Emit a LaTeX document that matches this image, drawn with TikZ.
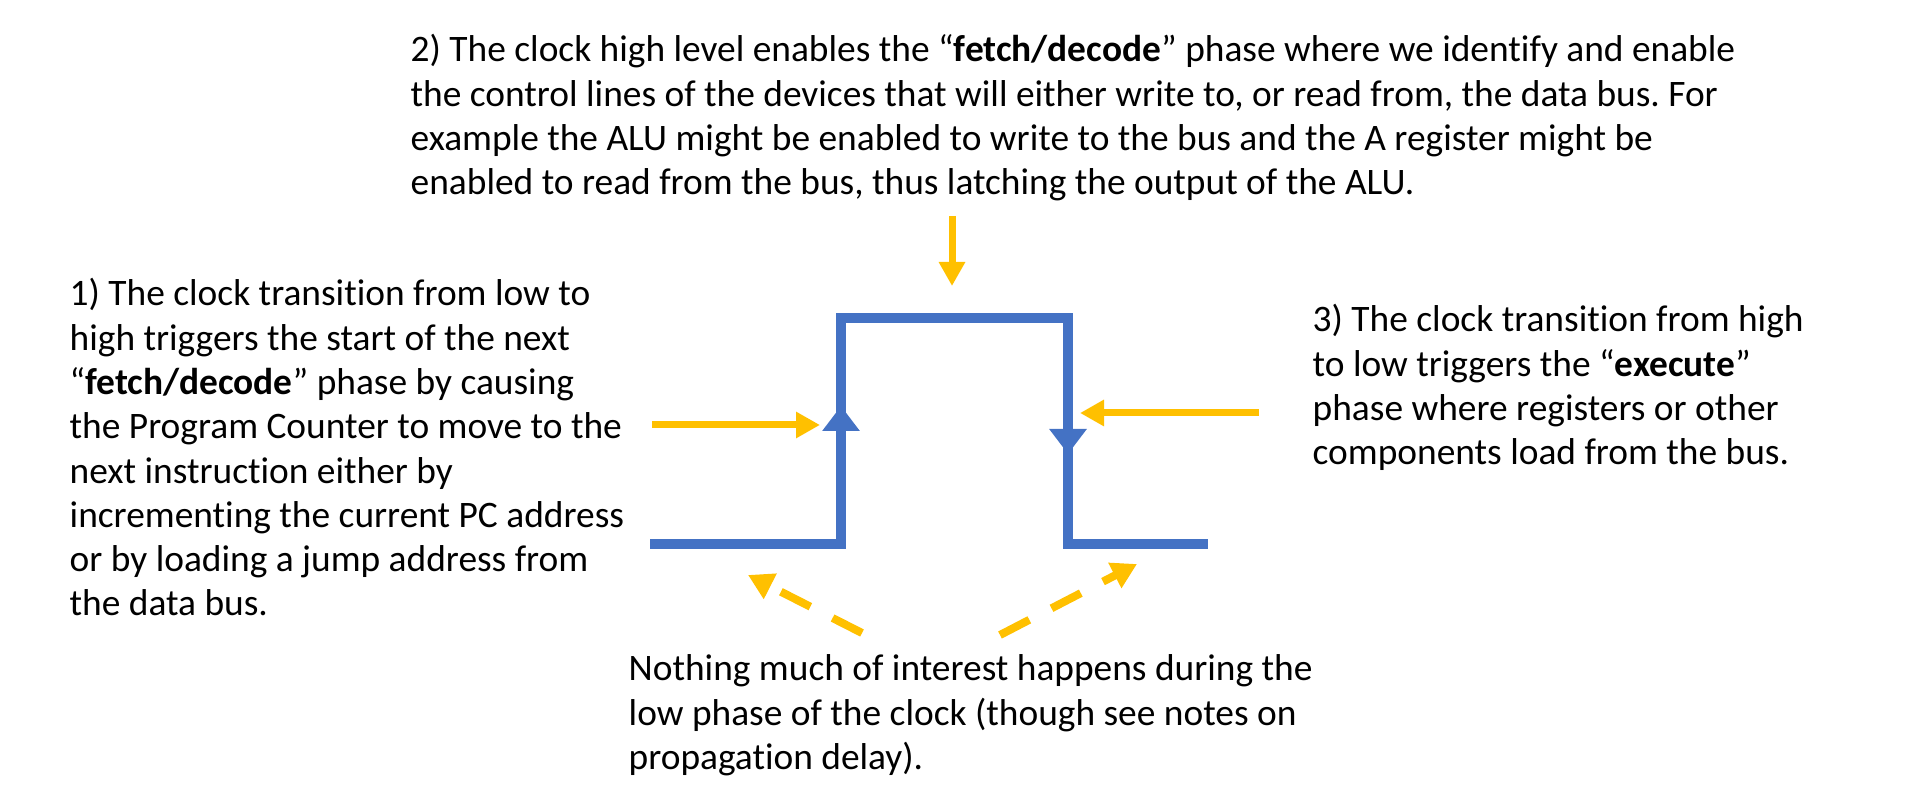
\documentclass[tikz,border=0pt]{standalone}
\usepackage{fontspec}
\setmainfont{Carlito}[Ligatures=NoCommon]
\usetikzlibrary{arrows.meta,calc,positioning}
\definecolor{clkblue}{HTML}{4472C4}
\definecolor{amber}{HTML}{FFC000}
\frenchspacing
\tikzset{
  wave/.style={draw=clkblue,line width=0.1cm},
  edgetip/.style={wave,-{Triangle[length=0.25cm,width=0.36cm]}},
  pointer/.style={draw=amber,line width=0.07cm,-{Triangle[length=0.24cm,width=0.25cm]}},
  lowpointer/.style={draw=amber,line width=0.08cm,dash pattern=on 0.33cm off 0.25cm,-{Triangle[length=0.25cm,width=0.27cm]}},
  para/.style={anchor=base west,inner sep=0pt,font=\fontsize{10.64}{12.6}\selectfont}
}

\begin{document}
\begin{tikzpicture}
\useasboundingbox (0,0) rectangle (19.23,8);
% clock pulse
\coordinate (A) at (6.50,2.56);
\coordinate (B) at (8.41,2.56);
\coordinate (C) at (8.41,4.82);
\coordinate (D) at (10.68,4.82);
\coordinate (E) at (10.68,2.56);
\coordinate (F) at (12.08,2.56);
\draw [wave] (A)--(B)--(C)--(D)--(E)--(F);
\coordinate (Ru) at (8.41,3.40);
\coordinate (Rt) at (8.41,3.94);
\coordinate (Fu) at (10.68,4.00);
\coordinate (Ft) at (10.68,3.46);
\draw [edgetip] (Ru)--(Rt);
\draw [edgetip] (Fu)--(Ft);
% texts
\node (T2) at (4.10,7.38) [para] {\begin{tabular}[t]{@{}l@{}}
2) The clock high level enables the “\textbf{fetch/decode}” phase where we identify and enable\\
the control lines of the devices that will either write to, or read from, the data bus. For\\
example the ALU might be enabled to write to the bus and the A register might be\\
enabled to read from the bus, thus latching the output of the ALU.\end{tabular}};
\node (T1) at (0.69,4.94) [para] {\begin{tabular}[t]{@{}l@{}}
1) The clock transition from low to\\
high triggers the start of the next\\
“\textbf{fetch/decode}” phase by causing\\
the Program Counter to move to the\\
next instruction either by\\
incrementing the current PC address\\
or by loading a jump address from\\
the data bus.\end{tabular}};
\node (T3) at (13.12,4.68) [para] {\begin{tabular}[t]{@{}l@{}}
3) The clock transition from high\\
to low triggers the “\textbf{execute}”\\
phase where registers or other\\
components load from the bus.\end{tabular}};
\node (N) at (6.28,1.19) [para] {\begin{tabular}[t]{@{}l@{}}
Nothing much of interest happens during the\\
low phase of the clock (though see notes on\\
propagation delay).\end{tabular}};
% pointers
\coordinate (P1) at (6.52,3.75);
\coordinate (Q1) at (8.20,3.75);
\coordinate (P2) at (9.52,5.84);
\coordinate (Q2) at (9.52,5.14);
\coordinate (P3) at (12.59,3.87);
\coordinate (Q3) at (10.80,3.87);
\draw [pointer] (P1)--(Q1);
\draw [pointer] (P2)--(Q2);
\draw [pointer] (P3)--(Q3);
\coordinate (P4) at (8.62,1.67);
\coordinate (Q4) at (7.48,2.25);
\coordinate (P5) at (10.00,1.65);
\coordinate (Q5) at (11.37,2.36);
\draw [lowpointer] (P4)--(Q4);
\draw [lowpointer] (P5)--(Q5);
\end{tikzpicture}
\end{document}
